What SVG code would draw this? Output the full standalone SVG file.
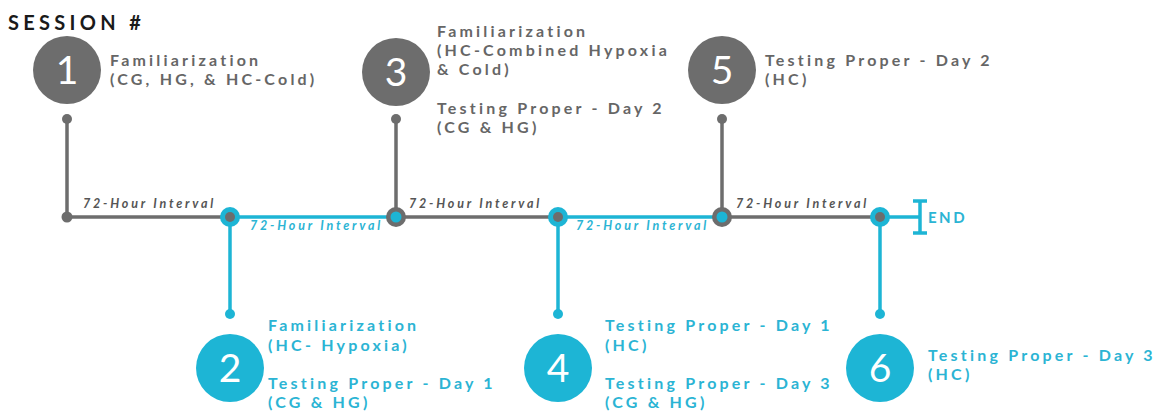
<svg xmlns="http://www.w3.org/2000/svg" width="1154" height="413" viewBox="0 0 1154 413">
<style>
.g{fill:#6d6d6d}
.c{fill:#1db5d5}
.gs{stroke:#6d6d6d;stroke-width:3.5;fill:none}
.cs{stroke:#1db5d5;stroke-width:3.5;fill:none}
.num{font-family:Lato,"Open Sans",sans-serif;font-size:39px;fill:#fff;text-anchor:middle}
.t{font-family:Lato,"Open Sans",sans-serif;font-weight:bold;font-size:16px;letter-spacing:3.2px}
.tg{fill:#666}
.tc{fill:#2bb4d4}
.iv{font-family:Lato,"Open Sans",sans-serif;font-weight:bold;font-style:italic;font-size:12.5px;letter-spacing:2.8px}
.ivg{fill:#555}
</style>
<rect width="1154" height="413" fill="#fff"/>
<text x="8" y="30" font-family="Lato,'Open Sans',sans-serif" font-weight="bold" font-size="20" letter-spacing="4.3" fill="#1a1a1a">SESSION #</text>
<g id="connectors">
<line class="gs" x1="67" y1="119" x2="67" y2="217"/>
<line class="gs" x1="396" y1="119" x2="396" y2="217"/>
<line class="gs" x1="722" y1="119" x2="722" y2="217"/>
<line class="gs" x1="67" y1="217" x2="230" y2="217"/>
<line class="cs" x1="230" y1="217" x2="396" y2="217"/>
<line class="gs" x1="396" y1="217" x2="558" y2="217"/>
<line class="cs" x1="558" y1="217" x2="722" y2="217"/>
<line class="gs" x1="722" y1="217" x2="880" y2="217"/>
<line class="cs" x1="880" y1="217" x2="920" y2="217"/>
<line class="cs" x1="230" y1="217" x2="230" y2="314"/>
<line class="cs" x1="558" y1="217" x2="558" y2="314"/>
<line class="cs" x1="880" y1="217" x2="880" y2="314"/>
<circle class="g" cx="67" cy="119" r="5"/>
<circle class="g" cx="396" cy="119" r="5"/>
<circle class="g" cx="722" cy="119" r="5"/>
<circle class="g" cx="67" cy="217" r="5.5"/>
<circle class="c" cx="230" cy="314" r="5"/>
<circle class="c" cx="558" cy="314" r="5"/>
<circle class="c" cx="880" cy="314" r="5"/>
<circle class="c" cx="230" cy="217" r="10"/><circle class="g" cx="230" cy="217" r="5"/>
<circle class="g" cx="396" cy="217" r="10"/><circle class="c" cx="396" cy="217" r="5.5"/>
<circle class="c" cx="558" cy="217" r="10"/><circle class="g" cx="558" cy="217" r="5"/>
<circle class="g" cx="722" cy="217" r="10"/><circle class="c" cx="722" cy="217" r="5.5"/>
<circle class="c" cx="880" cy="217" r="10"/><circle class="g" cx="880" cy="217" r="5"/>
<line class="cs" x1="920" y1="201" x2="920" y2="233"/>
<line class="cs" x1="913" y1="201" x2="927" y2="201"/>
<line class="cs" x1="913" y1="233" x2="927" y2="233"/>
<text class="iv ivg" x="83" y="208">72-Hour Interval</text>
<text class="iv tc" x="250" y="230">72-Hour Interval</text>
<text class="iv ivg" x="409" y="208">72-Hour Interval</text>
<text class="iv tc" x="576" y="230">72-Hour Interval</text>
<text class="iv ivg" x="736" y="208">72-Hour Interval</text>
<text x="928" y="223" font-family="Lato,'Open Sans',sans-serif" font-weight="bold" font-size="15" letter-spacing="2.5" fill="#2bb4d4">END</text>
</g>
<g id="node1">
<circle class="g" cx="67" cy="70" r="34"/>
<text class="num" x="67" y="84">1</text>
<text class="t tg" x="110" y="66">Familiarization</text>
<text class="t tg" x="110" y="85">(CG, HG, &amp; HC-Cold)</text>
</g>
<g id="node3">
<circle class="g" cx="396" cy="72" r="34"/>
<text class="num" x="396" y="86">3</text>
<text class="t tg" x="437" y="37">Familiarization</text>
<text class="t tg" x="437" y="56">(HC-Combined Hypoxia</text>
<text class="t tg" x="437" y="75">&amp; Cold)</text>
<text class="t tg" x="437" y="114">Testing Proper - Day 2</text>
<text class="t tg" x="437" y="133">(CG &amp; HG)</text>
</g>
<g id="node5">
<circle class="g" cx="722" cy="70" r="34"/>
<text class="num" x="722" y="84">5</text>
<text class="t tg" x="765" y="66">Testing Proper - Day 2</text>
<text class="t tg" x="765" y="85">(HC)</text>
</g>
<g id="node2">
<circle class="c" cx="230" cy="368" r="34"/>
<text class="num" x="230" y="382">2</text>
<text class="t tc" x="268" y="331">Familiarization</text>
<text class="t tc" x="268" y="351">(HC- Hypoxia)</text>
<text class="t tc" x="268" y="389">Testing Proper - Day 1</text>
<text class="t tc" x="268" y="408">(CG &amp; HG)</text>
</g>
<g id="node4">
<circle class="c" cx="558" cy="368" r="34"/>
<text class="num" x="558" y="382">4</text>
<text class="t tc" x="605" y="331">Testing Proper - Day 1</text>
<text class="t tc" x="605" y="351">(HC)</text>
<text class="t tc" x="605" y="389">Testing Proper - Day 3</text>
<text class="t tc" x="605" y="408">(CG &amp; HG)</text>
</g>
<g id="node6">
<circle class="c" cx="880" cy="368" r="34"/>
<text class="num" x="880" y="382">6</text>
<text class="t tc" x="928" y="361">Testing Proper - Day 3</text>
<text class="t tc" x="928" y="380">(HC)</text>
</g>
</svg>
